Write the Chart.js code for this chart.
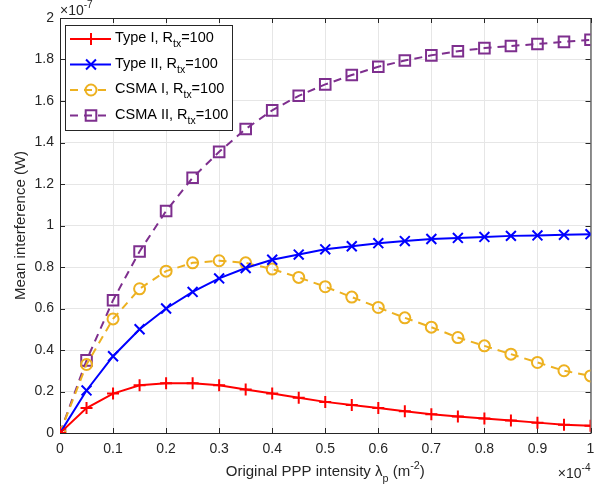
<!DOCTYPE html>
<html>
<head>
    <title>Mean interference</title>
    <script src="https://cdn.jsdelivr.net/npm/chart.js"></script>
    <style>
        body { margin: 0; background: #fff; }
        #wrap { width: 600px; height: 493px; }
    </style>
</head>
<body>
    <div id="wrap"><canvas id="chart" width="600" height="493"></canvas></div>
    <script>
        // x in units of 1e-4 m^-2, y in units of 1e-7 W
        const intensity = [0, 0.05, 0.1, 0.15, 0.2, 0.25, 0.3, 0.35, 0.4, 0.45, 0.5,
                           0.55, 0.6, 0.65, 0.7, 0.75, 0.8, 0.85, 0.9, 0.95, 1];
        const typeI = [0, 0.12, 0.19, 0.23, 0.24, 0.24, 0.23, 0.21, 0.19, 0.17, 0.15,
                       0.135, 0.12, 0.105, 0.09, 0.08, 0.07, 0.06, 0.05, 0.04, 0.035];
        const typeII = [0, 0.205, 0.37, 0.50, 0.60, 0.68, 0.745, 0.795, 0.835, 0.86, 0.885,
                        0.90, 0.915, 0.925, 0.935, 0.94, 0.945, 0.95, 0.952, 0.955, 0.958];
        const csmaI = [0, 0.33, 0.55, 0.695, 0.78, 0.82, 0.83, 0.82, 0.79, 0.75, 0.705,
                       0.655, 0.605, 0.555, 0.51, 0.46, 0.42, 0.38, 0.34, 0.30, 0.275];
        const csmaII = [0, 0.35, 0.64, 0.875, 1.07, 1.23, 1.355, 1.465, 1.555, 1.625, 1.68,
                        1.725, 1.765, 1.795, 1.82, 1.84, 1.855, 1.865, 1.875, 1.885, 1.895];
        const seriesNames = ['Type I', 'Type II', 'CSMA I', 'CSMA II'];
        const xTicks = [0, 0.1, 0.2, 0.3, 0.4, 0.5, 0.6, 0.7, 0.8, 0.9, 1];
        const yTicks = [0, 0.2, 0.4, 0.6, 0.8, 1, 1.2, 1.4, 1.6, 1.8, 2];

        const FONT = '"Liberation Sans", Arial, sans-serif';
        const axisColor = '#262626';

        function pts(ys) {
            return ys.map((y, i) => ({ x: intensity[i], y: y }));
        }

        function makeSet(name, ys, color, style, radius, dashed) {
            return {
                label: name,
                data: pts(ys),
                borderColor: color,
                backgroundColor: color,
                borderWidth: 2,
                borderDash: dashed ? [8, 6] : [],
                pointStyle: style,
                pointRadius: radius,
                pointBorderWidth: 2,
                pointBorderColor: color,
                pointBackgroundColor: 'rgba(0,0,0,0)',
                tension: 0
            };
        }

        const datasets = [
            makeSet(seriesNames[0], typeI, '#ff0000', 'cross', 6, false),
            makeSet(seriesNames[1], typeII, '#0000ff', 'crossRot', 7, false),
            makeSet(seriesNames[2], csmaI, '#edb120', 'circle', 5.5, true),
            makeSet(seriesNames[3], csmaII, '#7e2f8e', 'rect', 7.5, true)
        ];

        // draws text pieces with sub/superscripts
        function richText(ctx, parts, x, y, size, align) {
            let total = 0;
            parts.forEach(p => {
                ctx.font = (p.s ? size * 0.72 : size) + 'px ' + FONT;
                p.w = ctx.measureText(p.t).width;
                total += p.w;
            });
            let cx = align === 'center' ? x - total / 2 : (align === 'right' ? x - total : x);
            parts.forEach(p => {
                ctx.font = (p.s ? size * 0.72 : size) + 'px ' + FONT;
                let dy = p.s === 'sub' ? size * 0.45 : (p.s === 'sup' ? -size * 0.42 : 0);
                ctx.textAlign = 'left';
                ctx.textBaseline = 'middle';
                ctx.fillText(p.t, cx, y + dy);
                cx += p.w;
            });
        }

        const decorations = {
            id: 'decorations',
            beforeDatasetsDraw(chart) {
                const ctx = chart.ctx;
                const a = chart.chartArea;
                const xs = chart.scales.x, ys = chart.scales.y;
                ctx.save();
                ctx.strokeStyle = axisColor;
                ctx.lineWidth = 1;
                ctx.strokeRect(a.left + 0.5, a.top + 0.5, a.right - a.left, a.bottom - a.top);
                ctx.beginPath();
                xTicks.forEach(v => {
                    const px = Math.round(xs.getPixelForValue(v)) + 0.5;
                    ctx.moveTo(px, a.bottom); ctx.lineTo(px, a.bottom - 5);
                    ctx.moveTo(px, a.top); ctx.lineTo(px, a.top + 5);
                });
                yTicks.forEach(v => {
                    const py = Math.round(ys.getPixelForValue(v)) + 0.5;
                    ctx.moveTo(a.left, py); ctx.lineTo(a.left + 5, py);
                    ctx.moveTo(a.right, py); ctx.lineTo(a.right - 5, py);
                });
                ctx.stroke();
                ctx.restore();
            },
            afterDraw(chart) {
                const ctx = chart.ctx;
                const a = chart.chartArea;
                ctx.save();
                ctx.fillStyle = axisColor;

                // exponent labels
                richText(ctx, [{ t: '\u00d710' }, { t: '-7', s: 'sup' }], a.left, 11, 14, 'left');
                richText(ctx, [{ t: '\u00d710' }, { t: '-4', s: 'sup' }], a.right, 474, 14, 'right');

                // axis titles
                richText(ctx, [{ t: 'Original PPP intensity \u03bb' }, { t: 'p', s: 'sub' },
                               { t: ' (m' }, { t: '-2', s: 'sup' }, { t: ')' }],
                         (a.left + a.right) / 2, 472, 15, 'center');
                ctx.save();
                ctx.translate(21, (a.top + a.bottom) / 2);
                ctx.rotate(-Math.PI / 2);
                richText(ctx, [{ t: 'Mean interference (W)' }], 0, 0, 15, 'center');
                ctx.restore();

                // legend
                const lx = 65, ly = 25, lw = 167, lh = 105;
                ctx.fillStyle = '#fff';
                ctx.fillRect(lx, ly, lw, lh);
                ctx.strokeStyle = axisColor;
                ctx.lineWidth = 1;
                ctx.strokeRect(lx + 0.5, ly + 0.5, lw, lh);
                chart.data.datasets.forEach((ds, i) => {
                    const y = ly + 14 + i * 25.5;
                    ctx.save();
                    ctx.strokeStyle = ds.borderColor;
                    ctx.lineWidth = 2;
                    ctx.setLineDash(ds.borderDash);
                    ctx.beginPath();
                    ctx.moveTo(lx + 5, y);
                    ctx.lineTo(lx + 46, y);
                    ctx.stroke();
                    ctx.setLineDash([]);
                    ctx.fillStyle = 'rgba(0,0,0,0)';
                    Chart.helpers.drawPoint(ctx, {
                        pointStyle: ds.pointStyle, radius: ds.pointRadius,
                        borderWidth: 2, rotation: 0
                    }, lx + 26, y);
                    ctx.restore();
                    ctx.fillStyle = '#000';
                    richText(ctx, [{ t: ds.label + ', R' }, { t: 'tx', s: 'sub' }, { t: '=100' }],
                             lx + 50, y - 1, 14.5, 'left');
                });
                ctx.restore();
            }
        };

        new Chart(document.getElementById('chart').getContext('2d'), {
            type: 'line',
            data: { datasets: datasets },
            options: {
                responsive: false,
                animation: false,
                layout: { padding: { top: 18, right: 8, left: 0, bottom: 0 } },
                plugins: { legend: { display: false }, tooltip: { enabled: false } },
                scales: {
                    x: {
                        type: 'linear',
                        min: 0, max: 1,
                        afterBuildTicks: s => { s.ticks = xTicks.map(v => ({ value: v })); },
                        afterFit: s => { s.height = 60; s.paddingLeft = 0; s.paddingRight = 0; },
                        border: { display: false },
                        grid: { color: '#e6e6e6', drawTicks: false },
                        ticks: {
                            color: axisColor, padding: 8,
                            font: { family: FONT, size: 14 },
                            maxRotation: 0,
                            callback: v => String(Math.round(v * 10) / 10)
                        }
                    },
                    y: {
                        min: 0, max: 2,
                        afterBuildTicks: s => { s.ticks = yTicks.map(v => ({ value: v })); },
                        afterFit: s => { s.width = 60; s.paddingTop = 0; s.paddingBottom = 0; },
                        border: { display: false },
                        grid: { color: '#e6e6e6', drawTicks: false },
                        ticks: {
                            color: axisColor, padding: 6,
                            font: { family: FONT, size: 14 },
                            callback: v => String(Math.round(v * 10) / 10)
                        }
                    }
                }
            },
            plugins: [decorations]
        });
    </script>
</body>
</html>
